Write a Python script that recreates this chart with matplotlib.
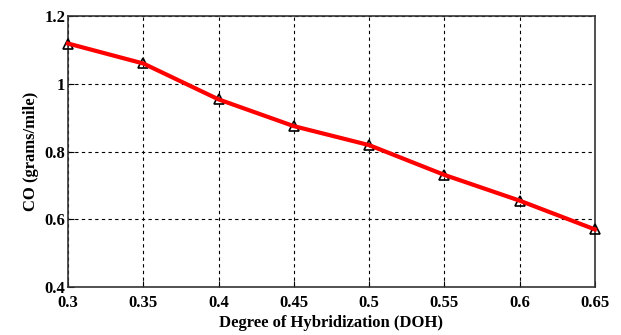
import matplotlib
matplotlib.use("Agg")
import matplotlib.pyplot as plt

# degree of hybridization vs CO emissions
doh = [0.30, 0.35, 0.40, 0.45, 0.50, 0.55, 0.60, 0.65]
co = [1.119, 1.060, 0.954, 0.875, 0.819, 0.731, 0.655, 0.570]

x_ticks = [0.3, 0.35, 0.4, 0.45, 0.5, 0.55, 0.6, 0.65]
x_labels = ["0.3", "0.35", "0.4", "0.45", "0.5", "0.55", "0.6", "0.65"]
y_ticks = [0.4, 0.6, 0.8, 1.0, 1.2]
y_labels = ["0.4", "0.6", "0.8", "1", "1.2"]

plt.rcParams['font.family'] = ['Liberation Serif', 'DejaVu Serif']
plt.rcParams['font.weight'] = 'bold'

fig = plt.figure(figsize=(6.21, 3.35), dpi=100)
ax = fig.add_axes([0.1095, 0.1433, 0.8485, 0.8087])

ax.plot(doh, co, linestyle='none', marker='^', markersize=7, clip_on=False,
        markerfacecolor='none', markeredgecolor='black', markeredgewidth=1.2, zorder=3)
ax.plot(doh, co, color='red', linewidth=3, zorder=4, clip_on=False)

ax.set_xlim(0.3, 0.65)
ax.set_ylim(0.4, 1.2)
ax.set_xticks(x_ticks)
ax.set_xticklabels(x_labels)
ax.set_yticks(y_ticks)
ax.set_yticklabels(y_labels)
ax.tick_params(direction='in', length=4, labelsize=12)
ax.tick_params(axis='x', pad=6)
ax.tick_params(axis='y', pad=2)
for lbl in ax.get_xticklabels() + ax.get_yticklabels():
    lbl.set_fontweight('bold')

ax.grid(True, color='black', linestyle=(0, (3, 3)), linewidth=0.8)
for sp in ax.spines.values():
    sp.set_linewidth(1.2)
    sp.set_color('#333333')

ax.set_xlabel("Degree of Hybridization (DOH)", fontsize=12, fontweight='bold', labelpad=3)
ax.set_ylabel("CO (grams/mile)", fontsize=12, fontweight='bold', labelpad=4)

fig.savefig("out.png", dpi=100)
